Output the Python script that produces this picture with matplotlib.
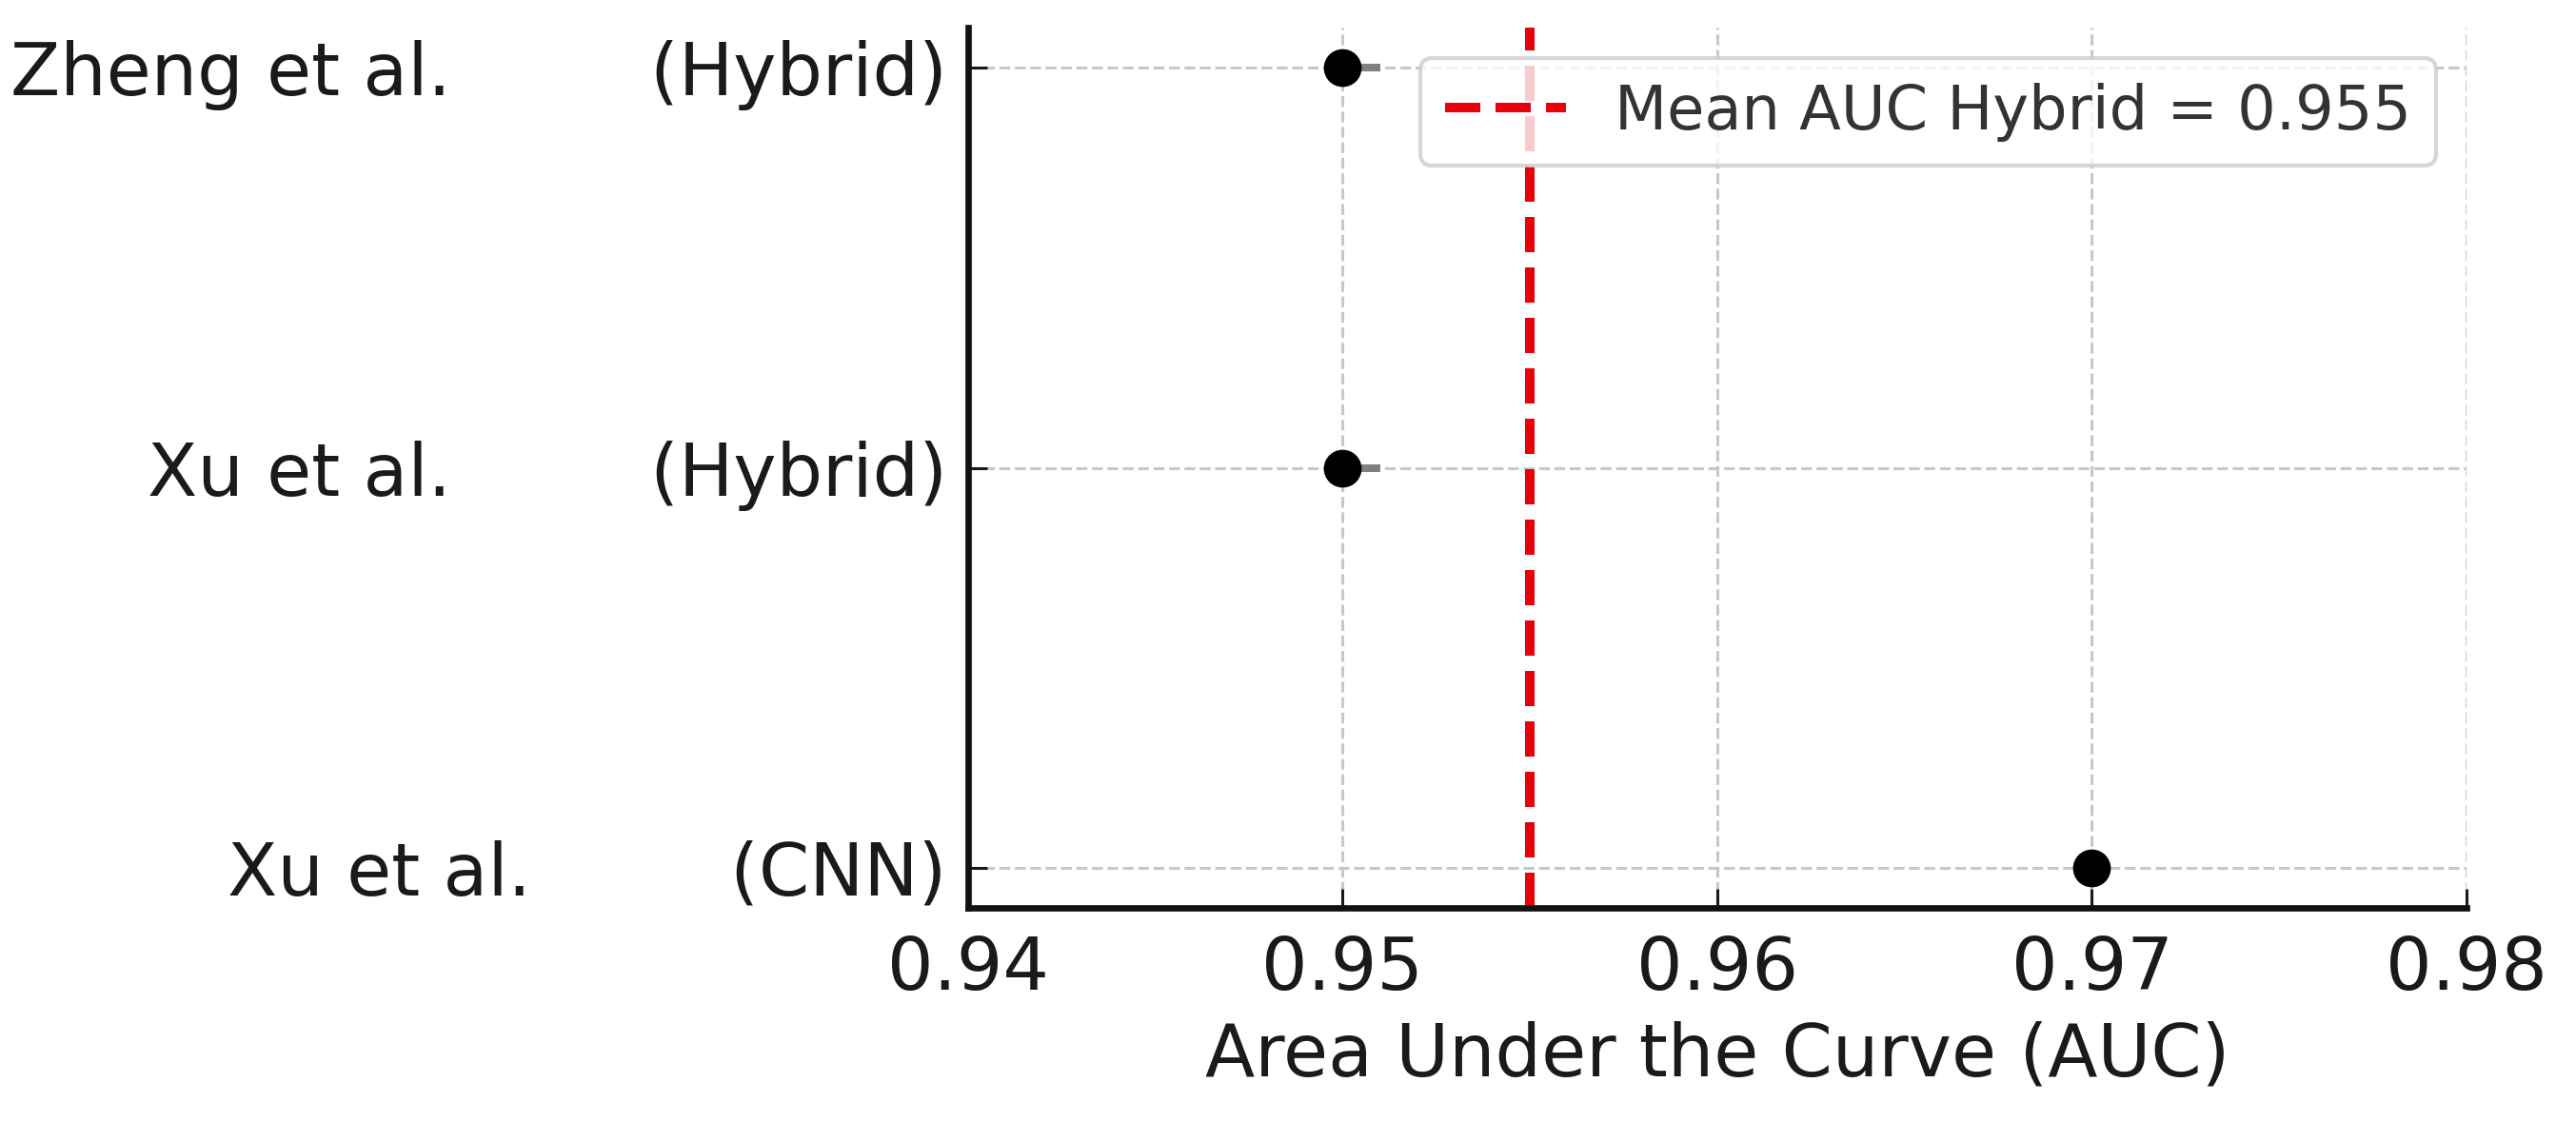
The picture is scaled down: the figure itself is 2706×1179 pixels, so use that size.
import matplotlib
matplotlib.use("Agg")
import matplotlib.pyplot as plt
import numpy as np

# studies, bottom to top
authors = ["Xu et al.", "Xu et al.", "Zheng et al."]
models = ["(CNN)", "(Hybrid)", "(Hybrid)"]
auc = [0.970, 0.950, 0.950]
err_lo = [0.0, 0.0, 0.0]
err_hi = [0.0, 0.001, 0.001]
mean_hybrid = 0.955
x_ticks = [0.94, 0.95, 0.96, 0.97, 0.98]

plt.rcParams["font.family"] = "DejaVu Sans"

fig = plt.figure(figsize=(13.53, 5.895), dpi=200)
ax = fig.add_axes([0.3758, 0.1908, 0.5817, 0.7846])

ypos = np.arange(len(auc))
gap = " " * 8 + "\u2009"
labels = [a + gap + m for a, m in zip(authors, models)]

ax.errorbar(auc, ypos, xerr=[err_lo, err_hi], fmt="none", ecolor="#808080",
            elinewidth=2.9, capsize=0, zorder=2)
ax.plot(auc, ypos, "o", color="black", markersize=13.3, zorder=3)
ax.axvline(mean_hybrid, color="#e8000b", linestyle="--", linewidth=3.6,
           label=f"Mean AUC Hybrid = {mean_hybrid}", zorder=2)

ax.set_xlim(0.94, 0.98)
ax.set_xticks(x_ticks)
ax.set_xticklabels([f"{t:.2f}" for t in x_ticks])
ax.set_yticks(ypos)
ax.set_yticklabels(labels)
ax.margins(y=0.05)

ax.tick_params(axis="both", direction="in", length=7.2, width=1.1,
               labelsize=27.5, colors="#1a1a1a")
ax.tick_params(axis="x", pad=10)
ax.tick_params(axis="y", pad=8)

ax.grid(True, linestyle="--", color="#c8c8c8", linewidth=1.1, zorder=0)
ax.set_axisbelow(True)

for s in ["top", "right"]:
    ax.spines[s].set_visible(False)
for s in ["left", "bottom"]:
    ax.spines[s].set_linewidth(2.4)
    ax.spines[s].set_color("#111111")

ax.set_xlabel("Area Under the Curve (AUC)", fontsize=27.5, color="#1a1a1a", labelpad=6)

leg = ax.legend(loc="upper right", fontsize=23, framealpha=0.8, edgecolor="#cccccc",
                fancybox=True, handlelength=2.0)
leg.get_frame().set_linewidth(1.5)
for t in leg.get_texts():
    t.set_color("#333333")

fig.savefig("out.png", dpi=200)
